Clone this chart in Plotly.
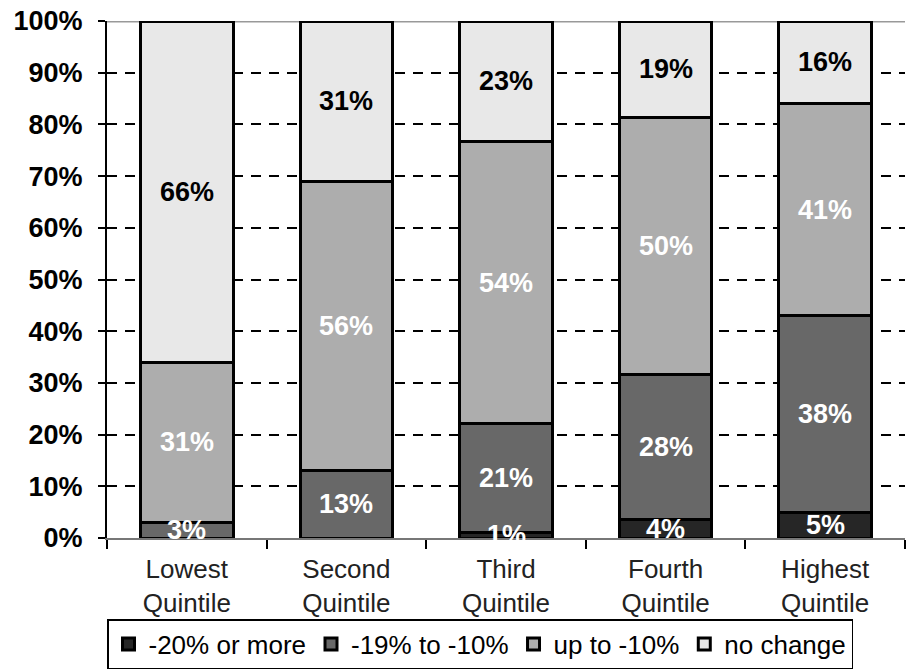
import plotly.graph_objects as go

categories = ["Lowest<br>Quintile", "Second<br>Quintile", "Third<br>Quintile",
              "Fourth<br>Quintile", "Highest<br>Quintile"]
series_names = ["-20% or more", "-19% to -10%", "up to -10%", "no change"]
s_20_or_more = [0, 0, 1.0, 3.6, 5.0]
s_19_to_10 = [3.0, 13.0, 21.2, 28.1, 38.0]
s_up_to_10 = [31.0, 56.0, 54.4, 49.7, 41.0]
s_no_change = [66.0, 31.0, 23.4, 18.6, 16.0]
y_ticks = [0, 10, 20, 30, 40, 50, 60, 70, 80, 90, 100]
y_tick_labels = [f"{v}%" for v in y_ticks]

series_values = [s_20_or_more, s_19_to_10, s_up_to_10, s_no_change]
fills = ["#262626", "#686868", "#adadad", "#e8e8e8"]
text_colors = ["white", "white", "white", "black"]
FONT = "Liberation Sans, Arial"

fig = go.Figure()
for name, vals, fc in zip(series_names, series_values, fills):
    fig.add_trace(go.Bar(
        x=categories, y=vals, name=name,
        marker=dict(color=fc, line=dict(color="black", width=3)),
        hoverinfo="skip",
    ))

# value labels on top of all bars (so small segments' labels are not covered)
base = [0.0] * len(categories)
for vals, tc in zip(series_values, text_colors):
    for i, v in enumerate(vals):
        if v > 0:
            fig.add_annotation(
                x=categories[i], y=base[i] + v / 2, xref="x", yref="y",
                text=f"{int(v + 0.5)}%", showarrow=False,
                font=dict(family=FONT, size=27, color=tc, weight="bold"),
            )
        base[i] += v

fig.update_layout(
    barmode="stack", bargap=0.42,
    width=910, height=671,
    margin=dict(l=107, r=5, t=21, b=133, autoexpand=False),
    paper_bgcolor="white", plot_bgcolor="white",
    font=dict(family=FONT, color="black"),
    legend=dict(
        orientation="h", x=0.0, xanchor="left", y=-0.1567, yanchor="top",
        bordercolor="black", borderwidth=1.5,
        font=dict(family=FONT, size=26, color="black"),
        traceorder="normal", itemwidth=30, tracegroupgap=0,
    ),
    showlegend=True,
)
fig.update_yaxes(
    range=[0, 100], tickvals=y_ticks, ticktext=y_tick_labels,
    showgrid=True, gridcolor="black", gridwidth=1.5, griddash="10px,8px",
    showline=True, linecolor="black", linewidth=2,
    ticks="outside", ticklen=7, tickwidth=2, tickcolor="black",
    tickfont=dict(family=FONT, size=27, color="black", weight="bold"),
    ticklabelstandoff=10, automargin=False,
    zeroline=False,
)
fig.update_xaxes(
    showline=True, linecolor="#777777", linewidth=2,
    ticks="outside", tickson="boundaries", ticklen=9, tickwidth=2, tickcolor="black",
    tickfont=dict(family=FONT, size=26, color="#222222"),
    ticklabelstandoff=7,
    showgrid=False, automargin=False,
)
fig.add_shape(type="line", xref="paper", yref="y", x0=0, x1=1, y0=100, y1=100,
              line=dict(color="#999999", width=3), layer="below")

fig.write_html("out.html", config={"displayModeBar": False},
               post_script="document.body.style.margin='0';")
